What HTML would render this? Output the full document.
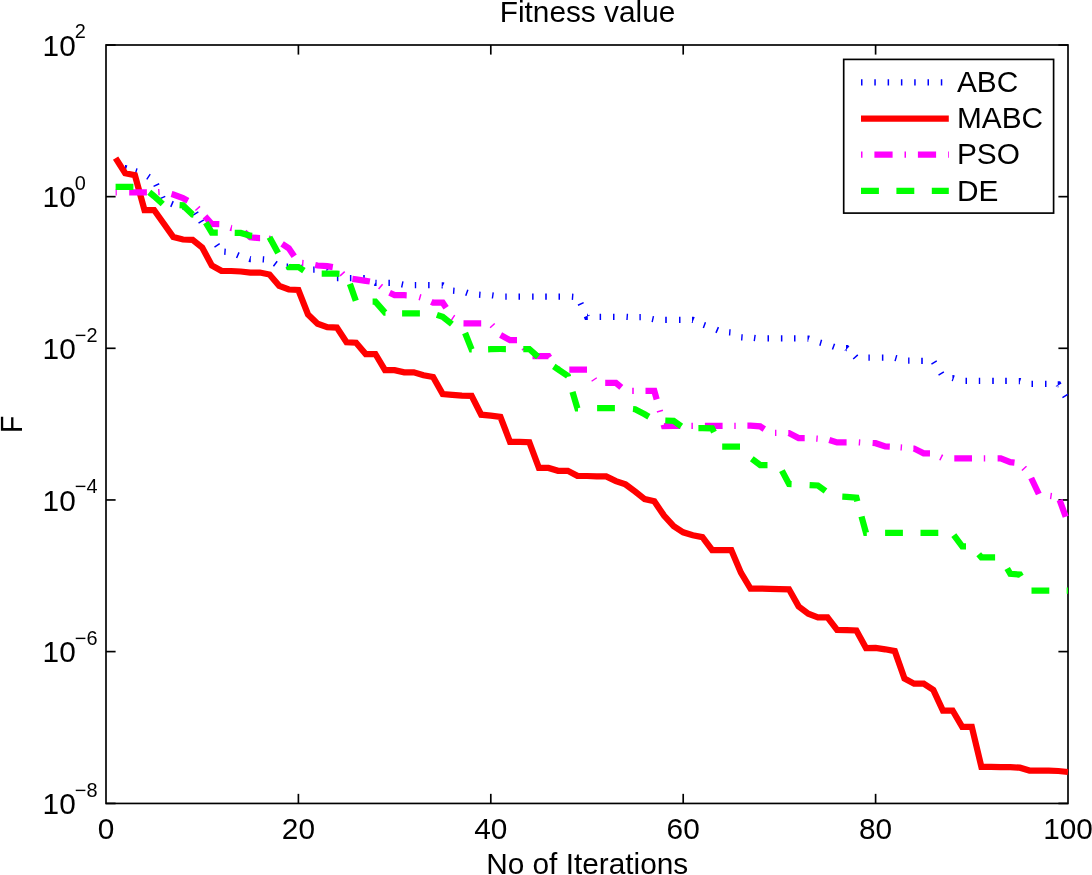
<!DOCTYPE html>
<html lang="en"><head><meta charset="utf-8"><title>Fitness value</title>
<style>html,body{margin:0;padding:0;background:#fff;overflow:hidden}svg{display:block}text{font-family:"Liberation Sans",Arial,Helvetica,sans-serif;fill:#000}</style></head><body>
<svg width="1092" height="875" viewBox="0 0 1092 875">
<rect x="0" y="0" width="1092" height="875" fill="#fff"/>
<g stroke="#000" stroke-width="1.67" fill="none">
<rect x="106" y="45" width="962" height="758.45"/>
<line x1="106" y1="45" x2="115.6" y2="45"/>
<line x1="1068" y1="45" x2="1058.4" y2="45"/>
<line x1="106" y1="196.65" x2="115.6" y2="196.65"/>
<line x1="1068" y1="196.65" x2="1058.4" y2="196.65"/>
<line x1="106" y1="348.3" x2="115.6" y2="348.3"/>
<line x1="1068" y1="348.3" x2="1058.4" y2="348.3"/>
<line x1="106" y1="499.95" x2="115.6" y2="499.95"/>
<line x1="1068" y1="499.95" x2="1058.4" y2="499.95"/>
<line x1="106" y1="651.6" x2="115.6" y2="651.6"/>
<line x1="1068" y1="651.6" x2="1058.4" y2="651.6"/>
<line x1="106" y1="803.45" x2="115.6" y2="803.45"/>
<line x1="1068" y1="803.45" x2="1058.4" y2="803.45"/>
<line x1="298.4" y1="803.45" x2="298.4" y2="793.85"/>
<line x1="298.4" y1="45" x2="298.4" y2="54.6"/>
<line x1="490.8" y1="803.45" x2="490.8" y2="793.85"/>
<line x1="490.8" y1="45" x2="490.8" y2="54.6"/>
<line x1="683.2" y1="803.45" x2="683.2" y2="793.85"/>
<line x1="683.2" y1="45" x2="683.2" y2="54.6"/>
<line x1="875.6" y1="803.45" x2="875.6" y2="793.85"/>
<line x1="875.6" y1="45" x2="875.6" y2="54.6"/>
</g>
<g fill="none" stroke-width="6.25" stroke-linejoin="miter" stroke-miterlimit="10" stroke-linecap="butt">
<path stroke="#0000ff" d="M125.0 168.0 L125.2 168.0 L126.4 168.4 M135.4 171.2 L136.8 171.6 M147.9 176.3 L149.1 177.1 M156.1 184.4 L156.7 185.7 M162.1 197.0 L162.7 198.3 M171.3 203.7 L172.7 204.3 M182.9 206.4 L183.0 206.4 L184.3 206.8 M195.3 212.9 L196.1 214.2 M200.8 220.9 L201.6 222.2 M216.7 244.7 L217.5 245.9 M224.3 251.7 L225.7 251.8 M237.1 254.9 L238.5 255.5 M249.4 258.9 L250.3 259.2 L250.8 259.2 M262.7 259.3 L264.1 259.4 M274.7 263.3 L275.9 264.2 M286.6 266.5 L288.1 266.5 M300.6 267.4 L302.0 267.8 M313.2 269.7 L314.6 269.7 M326.4 269.7 L327.3 269.7 L327.7 270.1 M336.9 278.0 L336.9 278.0 L338.4 278.0 M349.9 278.0 L351.4 278.0 M363.2 278.0 L364.8 278.0 M375.2 282.7 L375.4 282.8 L376.6 282.8 M388.4 282.8 L389.9 282.8 M401.6 284.3 L403.0 284.6 M414.8 285.1 L416.2 285.1 M428.1 285.1 L429.6 285.1 M441.7 285.3 L442.7 285.3 L443.1 285.5 M453.1 290.7 L454.5 290.8 M466.1 292.5 L467.5 293.0 M479.1 294.7 L480.5 294.8 M492.1 295.3 L493.5 295.5 M505.3 296.5 L506.7 296.5 M518.5 296.6 L519.7 296.6 L520.0 296.6 M532.1 296.6 L533.6 296.6 M545.2 296.6 L546.8 296.6 M558.5 296.6 L560.0 296.6 M571.9 296.7 L573.3 296.8 M580.5 303.3 L581.1 304.6 M586.7 316.1 L587.0 316.8 L587.8 316.8 M599.6 316.8 L601.1 316.8 M613.0 316.8 L614.5 316.8 M626.5 316.8 L627.9 316.9 M639.4 317.2 L640.8 317.2 M652.1 319.0 L653.5 319.3 M665.2 319.8 L666.8 319.8 M679.0 319.8 L680.5 319.8 M692.0 319.8 L692.8 319.8 L693.5 320.1 M703.7 324.9 L705.1 325.4 M716.5 329.7 L717.9 330.3 M729.1 332.3 L730.5 332.4 M741.2 337.3 L742.6 337.4 M754.0 337.9 L755.4 338.1 M767.5 338.4 L769.0 338.4 M780.9 338.4 L782.4 338.4 M794.0 338.4 L795.5 338.4 M807.5 338.5 L808.3 338.5 L808.9 338.7 M820.0 342.5 L821.4 342.9 M832.8 346.4 L834.2 346.9 M846.0 348.2 L846.7 348.2 L847.2 348.7 M855.0 356.4 L856.0 357.5 M868.4 357.7 L869.8 357.7 M881.9 357.6 L883.4 357.6 M895.2 357.9 L896.6 358.3 M908.1 360.7 L909.5 360.7 M921.2 360.8 L922.8 360.8 M933.7 361.8 L934.5 363.1 M940.8 372.9 L941.6 374.2 M952.4 378.0 L952.6 378.0 L953.8 378.4 M965.5 380.8 L967.0 380.8 M978.8 380.8 L980.2 380.8 M992.2 380.8 L993.8 380.8 M1005.2 380.8 L1006.8 380.8 M1018.8 381.0 L1019.9 381.0 L1020.2 381.1 M1031.5 383.8 L1033.0 383.8 M1045.0 383.8 L1046.5 383.8 M1057.7 384.4 L1058.4 384.4 L1058.8 385.1 M1064.7 395.3 L1065.5 396.6"/>
<polyline stroke="#ff0000" points="115.6,158.1 125.2,173.2 134.9,175.2 144.5,210.0 154.1,210.0 163.7,223.5 173.3,237.1 183.0,239.5 192.6,239.8 202.2,247.5 211.8,265.5 221.4,270.8 231.1,271.0 240.7,271.5 250.3,272.5 259.9,272.5 269.5,274.5 279.2,285.8 288.8,289.5 298.4,290.0 308.0,314.4 317.6,323.7 327.3,327.2 336.9,327.6 346.5,342.3 356.1,342.7 365.7,354.0 375.4,354.0 385.0,370.1 394.6,370.1 404.2,372.3 413.8,372.3 423.5,375.2 433.1,377.0 442.7,394.1 452.3,394.9 461.9,395.6 471.6,395.9 481.2,414.7 490.8,415.7 500.4,416.9 510.0,441.8 519.7,441.8 529.3,442.2 538.9,467.9 548.5,467.9 558.1,470.8 567.8,470.8 577.4,475.8 587.0,476.0 596.6,476.4 606.2,476.4 615.9,481.1 625.5,484.4 635.1,491.5 644.7,499.1 654.3,501.3 664.0,515.6 673.6,526.2 683.2,532.3 692.8,535.3 702.4,537.2 712.1,550.0 721.7,550.0 731.3,550.0 740.9,572.7 750.5,588.6 760.2,588.6 769.8,588.9 779.4,589.2 789.0,589.3 798.6,606.4 808.3,613.8 817.9,617.4 827.5,617.4 837.1,629.9 846.7,630.2 856.4,630.5 866.0,648.0 875.6,647.8 885.2,649.3 894.8,651.1 904.5,678.6 914.1,683.7 923.7,683.7 933.3,690.0 942.9,710.5 952.6,710.5 962.2,726.8 971.8,726.8 981.4,766.9 991.0,766.9 1000.7,767.2 1010.3,767.2 1019.9,767.7 1029.5,770.6 1039.1,770.6 1048.8,770.6 1058.4,771.0 1068.0,772.0"/>
<path stroke="#ff00ff" d="M129.2 192.3 L134.9 192.3 L144.5 192.3 L146.9 192.3 M171.5 194.0 L173.3 194.5 L183.0 198.2 L187.9 200.7 M205.0 216.4 L211.8 224.0 L219.3 224.2 M244.3 232.2 L250.3 237.3 L259.9 238.1 L260.1 238.1 M282.1 243.8 L288.8 248.3 L294.2 256.3 M315.2 265.0 L317.6 265.5 L327.3 266.2 L332.8 267.1 M352.4 278.9 L356.1 279.3 L365.7 280.8 L369.9 281.5 M389.6 292.7 L394.6 295.1 L404.2 295.2 L406.7 295.3 M431.3 301.9 L433.1 302.7 L442.7 302.7 L446.1 307.8 M463.5 323.3 L471.6 323.4 L481.2 323.4 L481.2 323.4 M500.6 335.0 L510.0 340.2 L517.0 340.2 M532.5 356.0 L538.9 356.0 L548.5 356.1 L549.5 357.5 M569.3 369.6 L577.4 369.6 L587.0 369.6 M605.2 382.8 L606.2 382.8 L615.9 382.8 L621.3 387.3 M645.5 390.8 L654.3 390.8 L656.7 399.3 M663.6 424.7 L664.0 426.0 L673.6 425.8 L680.3 425.8 M704.9 425.8 L712.1 425.8 L721.7 425.8 L722.6 425.8 M747.4 425.7 L750.5 425.7 L760.2 426.4 L764.3 429.1 M788.3 433.0 L789.0 433.0 L798.6 438.1 L804.7 438.1 M829.3 439.9 L837.1 442.4 L846.6 442.4 M872.6 443.0 L875.6 443.2 L885.2 446.4 L889.8 446.6 M913.4 448.5 L914.1 448.5 L923.7 453.3 L930.0 453.4 M954.3 458.3 L962.2 458.3 L971.8 458.3 L972.0 458.3 M997.6 458.3 L1000.7 458.3 L1010.3 462.2 L1014.5 462.7 M1031.2 478.0 L1038.8 494.0 M1059.6 500.0 L1065.7 516.7 M115.6 192.3 L116.8 192.3 M158.2 192.2 L159.6 192.1 M197.2 207.9 L198.2 209.0 M230.5 227.8 L231.1 228.0 L231.9 228.1 M268.8 238.7 L269.5 238.8 L270.2 239.0 M302.1 262.9 L303.5 263.0 M341.9 273.2 L342.9 274.3 M380.0 286.2 L381.2 287.2 M419.3 297.1 L420.7 297.5 M452.4 317.4 L453.6 318.2 M491.9 325.1 L492.9 326.2 M524.2 347.7 L525.0 349.0 M558.8 369.6 L560.2 369.6 M593.8 378.9 L594.6 380.1 M632.2 390.8 L633.8 390.8 M659.7 410.4 L660.1 411.9 M691.4 425.8 L692.8 425.8 L692.9 425.8 M734.3 425.8 L735.7 425.8 M775.0 432.9 L776.4 432.9 M816.3 438.6 L817.7 438.7 M858.8 442.4 L860.2 442.5 M900.6 447.4 L902.0 447.5 M940.5 457.1 L941.9 457.8 M983.8 458.3 L985.2 458.3 M1023.7 467.8 L1024.7 468.9 M1050.3 495.9 L1051.7 496.1"/>
<path stroke="#00ff00" d="M115.6 186.8 L125.2 186.8 L133.4 186.8 M149.3 192.3 L154.1 196.2 L162.7 204.0 M179.6 205.2 L183.0 205.4 L192.6 214.5 L193.7 214.7 M205.8 222.6 L211.8 232.7 L217.8 232.7 M234.7 232.8 L240.7 232.9 L250.3 235.7 L252.1 235.9 M269.5 237.3 L269.5 237.3 L278.1 252.9 M287.8 265.8 L288.8 267.0 L298.4 267.0 L303.9 270.7 M321.7 273.7 L327.3 273.7 L336.9 273.7 L339.5 273.8 M349.9 283.9 L355.8 300.7 M372.6 301.6 L375.4 301.6 L385.0 312.5 L385.5 312.5 M402.1 313.4 L404.2 313.4 L413.8 313.4 L419.9 313.4 M436.9 314.9 L442.7 316.9 L451.9 324.1 M465.1 333.0 L471.6 349.4 L471.7 349.4 M488.1 349.3 L490.8 349.2 L500.4 349.0 L505.9 349.0 M523.3 349.0 L529.3 349.0 L538.1 356.8 M553.8 366.4 L558.1 369.3 L567.8 375.9 L568.0 376.8 M572.5 391.9 L577.4 408.4 L578.0 408.4 M597.1 408.1 L606.2 408.1 L614.9 408.1 M633.0 409.0 L635.1 409.2 L644.7 414.3 L648.9 416.7 M665.3 420.5 L673.6 420.8 L681.3 426.4 M698.4 428.1 L702.4 428.1 L712.1 428.4 L714.0 432.1 M722.2 446.7 L731.3 446.7 L740.0 446.7 M751.8 458.7 L760.2 465.0 L767.5 465.0 M781.9 470.6 L789.0 484.0 L791.6 484.1 M809.6 485.1 L817.9 485.5 L825.5 491.1 M842.3 496.7 L846.7 496.9 L856.4 497.7 L857.3 501.3 M861.5 516.5 L866.0 532.8 L866.8 532.8 M885.1 532.8 L885.2 532.8 L894.8 532.8 L902.9 532.8 M920.5 532.8 L923.7 532.8 L933.3 532.8 L938.3 532.8 M953.8 535.2 L962.2 546.4 L966.0 546.4 M978.7 554.3 L981.4 557.4 L991.0 557.4 L995.1 557.4 M1007.2 568.5 L1010.3 573.8 L1019.9 574.6 L1021.0 576.4 M1031.5 590.5 L1039.1 590.5 L1048.8 590.5 L1049.3 590.5 M1066.7 590.5 L1068.0 590.5"/>
</g>
<text x="42.6" y="55.8" font-size="29.8">10</text>
<text x="74.8" y="38.2" font-size="19.9">2</text>
<text x="42.6" y="207.45" font-size="29.8">10</text>
<text x="74.8" y="189.85" font-size="19.9">0</text>
<text x="42.6" y="359.1" font-size="29.8">10</text>
<text x="74.8" y="341.5" font-size="19.9">−2</text>
<text x="42.6" y="510.75" font-size="29.8">10</text>
<text x="74.8" y="493.15" font-size="19.9">−4</text>
<text x="42.6" y="662.4" font-size="29.8">10</text>
<text x="74.8" y="644.8" font-size="19.9">−6</text>
<text x="42.6" y="814.25" font-size="29.8">10</text>
<text x="74.8" y="796.65" font-size="19.9">−8</text>
<text x="106" y="839" font-size="29.8" text-anchor="middle">0</text>
<text x="298.4" y="839" font-size="29.8" text-anchor="middle">20</text>
<text x="490.8" y="839" font-size="29.8" text-anchor="middle">40</text>
<text x="683.2" y="839" font-size="29.8" text-anchor="middle">60</text>
<text x="875.6" y="839" font-size="29.8" text-anchor="middle">80</text>
<text x="1068" y="839" font-size="29.8" text-anchor="middle">100</text>
<text x="587.5" y="21.6" font-size="29.8" text-anchor="middle">Fitness value</text>
<text x="587.2" y="874" font-size="29.8" text-anchor="middle">No of Iterations</text>
<text transform="translate(22,424.3) rotate(-90) scale(0.95,1.03)" text-rendering="geometricPrecision" font-size="29.8" text-anchor="middle">F</text>
<rect x="843.7" y="59.4" width="209.9" height="153.7" fill="#fff" stroke="#000" stroke-width="1.67"/>
<g fill="none" stroke-width="6.25">
<line x1="861" y1="82.3" x2="948.8" y2="82.3" stroke="#0000ff" stroke-dasharray="1.5 11.8"/>
<line x1="861" y1="118.5" x2="948.8" y2="118.5" stroke="#ff0000"/>
<line x1="861" y1="154.6" x2="948.8" y2="154.6" stroke="#ff00ff" stroke-dasharray="1.5 11.9 18.2 11.9"/>
<line x1="861" y1="190.9" x2="948.8" y2="190.9" stroke="#00ff00" stroke-dasharray="17.9 17.5"/>
</g>
<text x="957" y="91.8" font-size="29.8">ABC</text>
<text x="957" y="128.4" font-size="29.8">MABC</text>
<text x="957" y="164.2" font-size="29.8">PSO</text>
<text x="957" y="201.1" font-size="29.8">DE</text>
</svg></body></html>
